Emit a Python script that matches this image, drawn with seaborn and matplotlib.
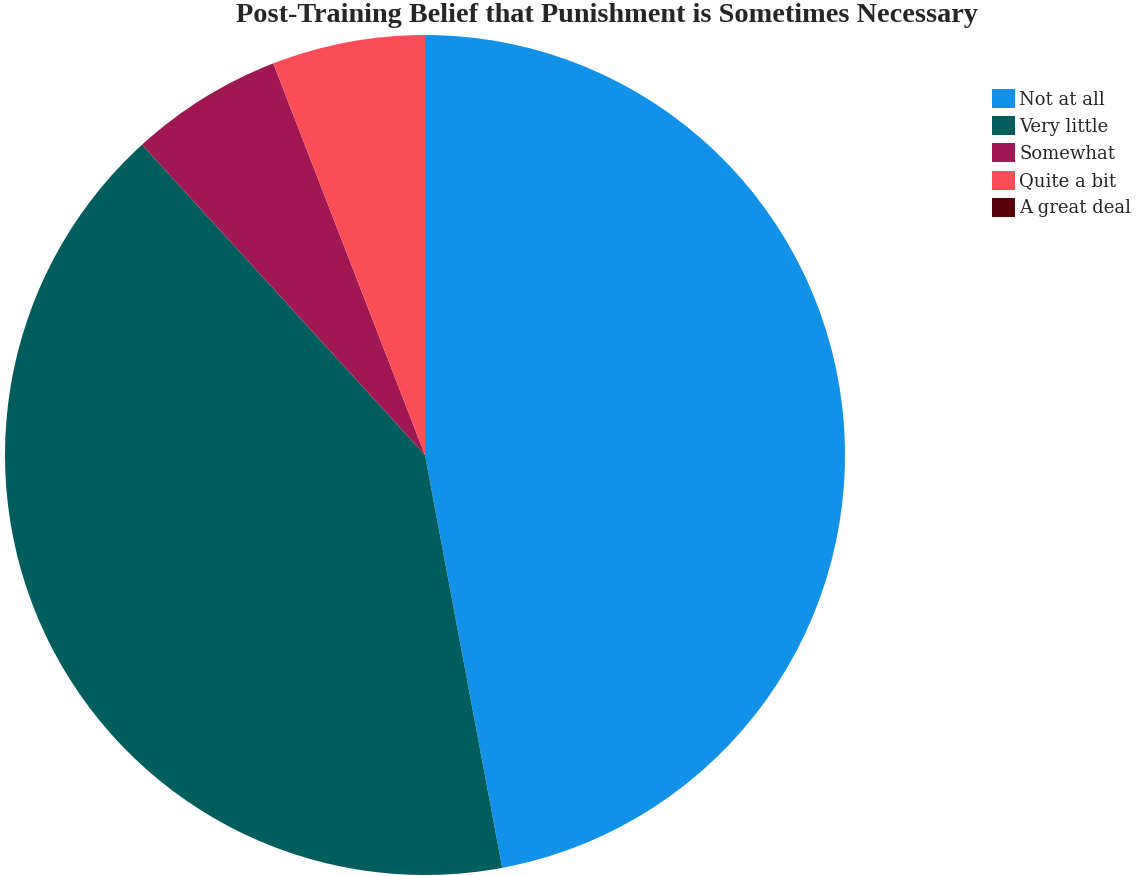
import matplotlib
matplotlib.use("Agg")
import matplotlib.pyplot as plt
import seaborn as sns
from matplotlib.patches import Patch

categories = ["Not at all", "Very little", "Somewhat", "Quite a bit", "A great deal"]
counts = [8, 7, 1, 1, 0]
colors = ["#1192e8", "#005d5d", "#9f1853", "#fa4d56", "#570408"]
title = "Post-Training Belief that Punishment is Sometimes Necessary"

sns.set_theme(style="white")
plt.rcParams['font.family'] = ['Liberation Serif', 'DejaVu Serif']

W, H = 1138, 876
fig = plt.figure(figsize=(W / 100, H / 100), dpi=100)
cx, cy, r = 425, 455, 420
ax = fig.add_axes([(cx - r) / W, (H - cy - r) / H, 2 * r / W, 2 * r / H])
ax.pie(counts, colors=colors, startangle=90, counterclock=False, radius=1,
       wedgeprops=dict(linewidth=0))
ax.set_xlim(-1, 1)
ax.set_ylim(-1, 1)
ax.set_aspect("equal")
ax.axis("off")

fig.text(607 / W, 1 - 16 / H, title, ha="center", va="center",
         fontsize=20.3, fontweight="bold", family="Liberation Serif")

handles = [Patch(facecolor=c, edgecolor="none") for c in colors]
leg = fig.legend(handles, categories, loc="upper left", bbox_to_anchor=(992 / W, 1 - 89 / H),
                 frameon=False, prop=dict(family="DejaVu Serif", size=13),
                 handlelength=1.25, handleheight=1.25,
                 handletextpad=0.25, labelspacing=0.42, borderpad=0, borderaxespad=0)

fig.savefig("out.png", dpi=100)
